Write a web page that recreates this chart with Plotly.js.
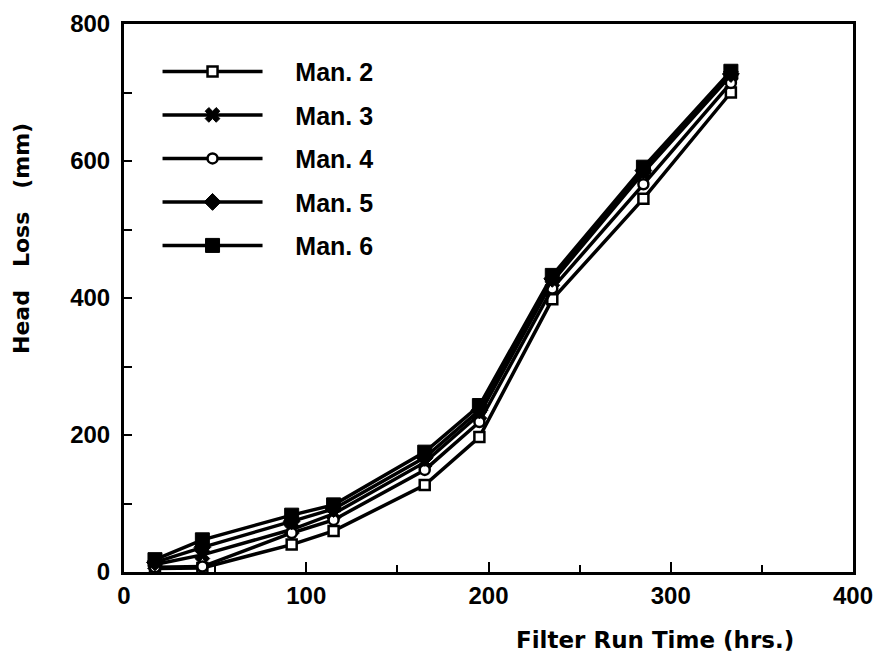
<!DOCTYPE html>
<html>
<head>
<meta charset="utf-8">
<script src="https://cdn.plot.ly/plotly-3.0.1.min.js"></script>
<style>
  html, body { margin: 0; padding: 0; background: #fff; }
  #chart { width: 879px; height: 659px; }
</style>
</head>
<body>
<div id="chart"></div>
<script>
// Filter run time (hours) at each sampling point
const hours = [17, 43, 92, 115, 165, 195, 235, 285, 333];

// Head loss (mm) measured at each manometer
const man2 = [5, 6, 40, 60, 127, 197, 398, 545, 700];
const man3 = [11, 25, 62, 85, 160, 230, 424, 583, 725];
const man4 = [7, 8, 57, 76, 149, 219, 414, 566, 714];
const man5 = [14, 36, 74, 92, 167, 236, 428, 586, 727];
const man6 = [18, 47, 83, 98, 175, 243, 433, 591, 731];

const seriesNames = ['Man. 2', 'Man. 3', 'Man. 4', 'Man. 5', 'Man. 6'];
const xTicks = [0, 100, 200, 300, 400];
const yTicks = [0, 200, 400, 600, 800];

const FONT = 'Liberation Sans, Arial, sans-serif';
const TITLE_FONT = 'DejaVu Sans, Liberation Sans, sans-serif';
const NB = '\u00a0';

function series(name, y, marker) {
  return {
    type: 'scatter',
    mode: 'lines+markers',
    // leading no-break spaces keep the label clear of the long legend sample line
    name: NB.repeat(4) + name,
    legendgroup: name,
    x: hours,
    y: y,
    line: { color: '#000', width: 3.5 },
    marker: marker
  };
}

const traces = [
  series(seriesNames[0], man2, { symbol: 'square', size: 10, color: '#fff', line: { color: '#000', width: 2.5 } }),
  series(seriesNames[1], man3, { symbol: 'x', size: 13, color: '#000', line: { color: '#000', width: 1 } }),
  series(seriesNames[2], man4, { symbol: 'circle', size: 10, color: '#fff', line: { color: '#000', width: 2.5 } }),
  series(seriesNames[3], man5, { symbol: 'diamond', size: 13, color: '#000', line: { color: '#000', width: 1 } }),
  series(seriesNames[4], man6, { symbol: 'square', size: 14, color: '#000', line: { color: '#000', width: 1 } })
];

const layout = {
  width: 879,
  height: 659,
  margin: { l: 124, r: 26, t: 24, b: 87 },
  paper_bgcolor: '#fff',
  plot_bgcolor: '#fff',
  font: { family: FONT, color: '#000', size: 24, weight: 'bold' },
  showlegend: true,
  legend: {
    x: 0.046, y: 0.955, xanchor: 'left', yanchor: 'top',
    bgcolor: 'rgba(0,0,0,0)',
    borderwidth: 0,
    itemwidth: 100,
    tracegroupgap: 8,
    traceorder: 'grouped',
    font: { family: FONT, size: 25, weight: 'bold', color: '#000' }
  },
  xaxis: {
    range: [0, 400],
    tickmode: 'array',
    tickvals: xTicks,
    ticktext: xTicks.map(String),
    ticks: 'inside',
    ticklen: 10,
    tickwidth: 2,
    tickcolor: '#000',
    minor: { dtick: 50, ticks: 'inside', ticklen: 7, tickwidth: 2, tickcolor: '#000' },
    showline: true,
    linewidth: 3,
    linecolor: '#000',
    mirror: true,
    showgrid: false,
    zeroline: false,
    tickfont: { family: FONT, size: 24, weight: 'bold' }
  },
  yaxis: {
    range: [0, 800],
    tickmode: 'array',
    tickvals: yTicks,
    ticktext: yTicks.map(String),
    ticks: 'inside',
    ticklen: 8,
    tickwidth: 2,
    tickcolor: '#000',
    minor: { dtick: 100, ticks: 'inside', ticklen: 8, tickwidth: 2, tickcolor: '#000' },
    showline: true,
    linewidth: 3,
    linecolor: '#000',
    mirror: true,
    showgrid: false,
    zeroline: false,
    ticklabelstandoff: 6,
    tickfont: { family: FONT, size: 24, weight: 'bold' }
  },
  annotations: [
    {
      text: 'Filter Run Time (hrs.)',
      xref: 'paper', yref: 'paper',
      x: (655 - 124) / 729, y: -(640 - 572) / 548,
      xanchor: 'center', yanchor: 'middle',
      showarrow: false,
      font: { family: TITLE_FONT, size: 23, weight: 'bold', color: '#000' }
    },
    {
      text: 'Head' + NB.repeat(3) + 'Loss' + NB.repeat(3) + '(mm)',
      xref: 'paper', yref: 'paper',
      x: -(124 - 21) / 729, y: (572 - 238) / 548,
      xanchor: 'center', yanchor: 'middle',
      textangle: -90,
      showarrow: false,
      font: { family: TITLE_FONT, size: 22, weight: 'bold', color: '#000' }
    }
  ]
};

Plotly.newPlot('chart', traces, layout, { displayModeBar: false, staticPlot: true });
</script>
</body>
</html>
